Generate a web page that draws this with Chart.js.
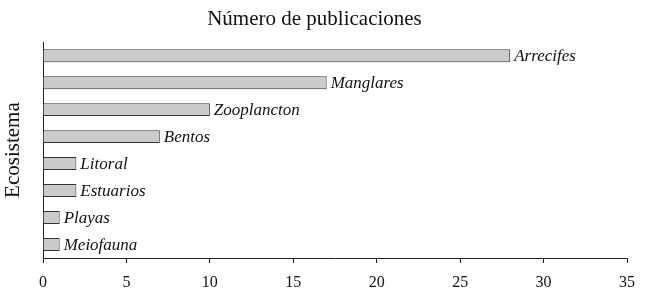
<!DOCTYPE html>
<html>
<head>
<meta charset="utf-8">
<script src="https://cdn.jsdelivr.net/npm/chart.js@4"></script>
<style>
  html, body { margin: 0; padding: 0; background: #fff; }
  #wrap { width: 645px; height: 296px; }
</style>
</head>
<body>
<div id="wrap"><canvas id="myChart" width="645" height="296"></canvas></div>
<script>
const categories = ['Arrecifes', 'Manglares', 'Zooplancton', 'Bentos', 'Litoral', 'Estuarios', 'Playas', 'Meiofauna'];
const publicaciones = [28, 17, 10, 7, 2, 2, 1, 1];
const xTicks = [0, 5, 10, 15, 20, 25, 30, 35];

const serif = "'Liberation Serif', 'DejaVu Serif', serif";

// draws the category name in italics right after each bar
const endLabels = {
  id: 'endLabels',
  afterDatasetsDraw(chart) {
    const ctx = chart.ctx;
    const meta = chart.getDatasetMeta(0);
    ctx.save();
    ctx.font = 'italic 17px ' + serif;
    ctx.fillStyle = '#111';
    ctx.textBaseline = 'middle';
    meta.data.forEach((bar, i) => {
      ctx.fillText(categories[i], bar.x + 4, bar.y + 1);
    });
    ctx.restore();
  }
};

const data = {
  labels: categories,
  datasets: [{
    label: 'Número de publicaciones',
    data: publicaciones,
    backgroundColor: '#cbcbcb',
    borderColor: '#333',
    borderWidth: 1,
    barPercentage: 0.48,
    categoryPercentage: 1
  }]
};

const config = {
  type: 'bar',
  data: data,
  options: {
    indexAxis: 'y',
    responsive: false,
    animation: false,
    layout: { padding: { left: 0, right: 16, top: 0, bottom: 0 } },
    plugins: {
      legend: { display: false },
      tooltip: { enabled: false },
      title: {
        display: true,
        text: 'Número de publicaciones',
        color: '#111',
        font: { family: serif, size: 21, weight: 'normal' },
        padding: { top: 7, bottom: 10 }
      }
    },
    scales: {
      x: {
        min: 0,
        max: 35,
        afterBuildTicks(scale) {
          scale.ticks = xTicks.map(v => ({ value: v }));
        },
        afterFit(scale) { scale.height = 38; },
        grid: {
          drawOnChartArea: false,
          drawTicks: true,
          tickLength: 5,
          color: '#222'
        },
        border: { display: true, color: '#222', width: 1 },
        ticks: {
          color: '#111',
          padding: 10,
          font: { family: serif, size: 16 }
        }
      },
      y: {
        afterFit(scale) { scale.width = 43; },
        grid: { display: false },
        border: { display: true, color: '#222', width: 1 },
        ticks: { display: false },
        title: {
          display: true,
          text: 'Ecosistema',
          color: '#111',
          font: { family: serif, size: 21 },
          padding: { top: 1, bottom: 0 }
        }
      }
    }
  },
  plugins: [endLabels]
};

var thisChart = new Chart(document.getElementById('myChart'), config);
</script>
</body>
</html>
